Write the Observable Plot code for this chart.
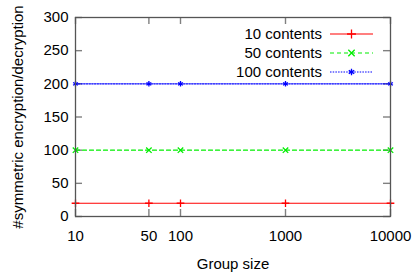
<!DOCTYPE html>
<html>
<head>
<meta charset="utf-8">
<script src="https://cdn.jsdelivr.net/npm/d3@7"></script>
<script src="https://cdn.jsdelivr.net/npm/@observablehq/plot@0.6"></script>
<style>
  html, body { margin: 0; padding: 0; background: #fff; }
  svg { font-family: "Liberation Sans", Arial, sans-serif; }
</style>
</head>
<body>
<div id="chart"></div>
<script>
const groupSizes = [10, 50, 100, 1000, 10000];
const series = ["10 contents", "50 contents", "100 contents"];
const values10 = [20, 20, 20, 20, 20];
const values50 = [100, 100, 100, 100, 100];
const values100 = [200, 200, 200, 200, 200];
const xTicks = [10, 50, 100, 1000, 10000];
const yTicks = [0, 50, 100, 150, 200, 250, 300];
const xLabel = "Group size";
const yLabel = "#symmetric encryption/decryption";

const colors = ["#ff0000", "#00ee00", "#0000ff"];
const dashes = [null, "4,3", "1.5,1.2"];
const symbols = ["plus", "times", "asterisk"];
const allValues = [values10, values50, values100];

const W = 415, H = 277;
const mL = 75, mR = 25, mT = 17, mB = 61;
const frameW = W - mL - mR, frameH = H - mT - mB;
const tickLen = 7;

const rows = [];
series.forEach((s, i) => groupSizes.forEach((g, j) => rows.push({series: s, x: g, y: allValues[i][j]})));

const lineMarks = series.map((s, i) => Plot.line(rows.filter(d => d.series === s), {
  x: "x", y: "y", stroke: colors[i], strokeWidth: 1.2, strokeDasharray: dashes[i]
}));
const dotMarks = series.map((s, i) => Plot.dot(rows.filter(d => d.series === s), {
  x: "x", y: "y", stroke: colors[i], strokeWidth: 1.3, symbol: () => symbols[i], r: 2.6
}));

const tickStroke = {stroke: "#808080", strokeWidth: 1.4};

const chart = Plot.plot({
  width: W,
  height: H,
  marginLeft: mL,
  marginRight: mR,
  marginTop: mT,
  marginBottom: mB,
  style: {fontFamily: "'Liberation Sans', Arial, sans-serif", fontSize: "15px", background: "#fff"},
  x: {type: "log", domain: [10, 10000], axis: null},
  y: {domain: [0, 300], axis: null},
  symbol: {type: "identity"},
  marks: [
    // inward ticks on all four sides
    Plot.tickX(xTicks, {x: d => d, insetTop: frameH - tickLen, ...tickStroke}),
    Plot.tickX(xTicks, {x: d => d, insetBottom: frameH - tickLen, ...tickStroke}),
    Plot.tickY(yTicks, {y: d => d, insetRight: frameW - tickLen, ...tickStroke}),
    Plot.tickY(yTicks, {y: d => d, insetLeft: frameW - tickLen, ...tickStroke}),
    // tick labels
    Plot.text(xTicks, {x: d => d, frameAnchor: "bottom", dy: 14, lineAnchor: "top", textAnchor: "middle", text: d => String(d), fontSize: 15, fill: "#000"}),
    Plot.text(yTicks, {y: d => d, frameAnchor: "left", dx: -7, lineAnchor: "middle", textAnchor: "end", text: d => String(d), fontSize: 15, fill: "#000"}),
    ...lineMarks,
    ...dotMarks,
    Plot.frame({stroke: "#555", strokeWidth: 1.3}),
    Plot.text([xLabel], {frameAnchor: "bottom", dy: 47.5, lineAnchor: "middle", textAnchor: "middle", fontSize: 15, fill: "#000"}),
    Plot.text([yLabel], {frameAnchor: "left", dx: -57.5, rotate: -90, lineAnchor: "middle", textAnchor: "middle", fontSize: 15, fill: "#000"})
  ]
});

// Legend (top-right, inside the frame), gnuplot style
const svg = d3.select(chart);
const leg = svg.append("g").attr("font-size", 15).attr("font-family", "'Liberation Sans', Arial, sans-serif");
const symGen = {
  plus: d3.symbol(d3.symbolPlus, 28),
  times: d3.symbol(d3.symbolTimes, 28),
  asterisk: d3.symbol(d3.symbolAsterisk, 28)
};
series.forEach((s, i) => {
  const cy = 34 + i * 19;
  leg.append("text").attr("x", 322).attr("y", cy).attr("dy", "0.32em")
    .attr("text-anchor", "end").attr("fill", "#000").text(s);
  leg.append("line").attr("x1", 330).attr("x2", 373).attr("y1", cy).attr("y2", cy)
    .attr("stroke", colors[i]).attr("stroke-width", 1.2)
    .attr("stroke-dasharray", dashes[i]);
  leg.append("path").attr("transform", `translate(351.5,${cy})`)
    .attr("d", symGen[symbols[i]]()).attr("fill", "none")
    .attr("stroke", colors[i]).attr("stroke-width", 1.3);
});

document.getElementById("chart").appendChild(chart);
</script>
</body>
</html>
